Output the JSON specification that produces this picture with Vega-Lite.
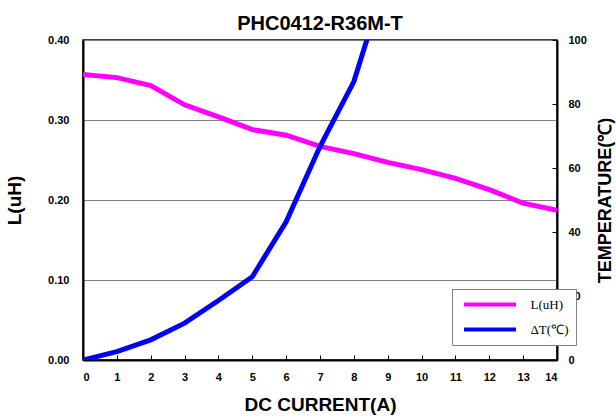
{
  "$schema": "https://vega.github.io/schema/vega-lite/v6.json",
  "width": 474,
  "height": 320,
  "autosize": {"type": "none"},
  "padding": {"left": 83, "top": 40, "right": 59, "bottom": 58},
  "background": "white",
  "title": {
    "text": "PHC0412-R36M-T",
    "font": "Liberation Sans",
    "fontSize": 20,
    "fontWeight": "bold",
    "color": "black",
    "anchor": "middle",
    "offset": 0
  },
  "config": {
    "view": {"stroke": "black", "strokeWidth": 1.5},
    "axis": {
      "labelFont": "Liberation Sans",
      "labelFontWeight": "bold",
      "labelFontSize": 11,
      "labelColor": "black",
      "titleFont": "Liberation Sans",
      "titleFontWeight": "bold",
      "titleFontSize": 19,
      "titleColor": "black",
      "domainColor": "black",
      "domainWidth": 2,
      "tickColor": "black",
      "tickWidth": 1
    }
  },
  "data": {
    "values": [
      {"I": 0, "L": 0.357, "T": 0},
      {"I": 1, "L": 0.353, "T": 2.6},
      {"I": 2, "L": 0.343, "T": 6.3},
      {"I": 3, "L": 0.319, "T": 11.5},
      {"I": 4, "L": 0.304, "T": 18.6},
      {"I": 5, "L": 0.288, "T": 26},
      {"I": 6, "L": 0.281, "T": 43.2},
      {"I": 7, "L": 0.267, "T": 66.7},
      {"I": 8, "L": 0.258, "T": 87},
      {"I": 9, "L": 0.247, "T": 121},
      {"I": 10, "L": 0.238},
      {"I": 11, "L": 0.227},
      {"I": 12, "L": 0.213},
      {"I": 13, "L": 0.196},
      {"I": 14, "L": 0.187}
    ]
  },
  "encoding": {
    "x": {
      "field": "I",
      "type": "quantitative",
      "scale": {"domain": [0, 14], "nice": false},
      "axis": {
        "title": "DC CURRENT(A)",
        "values": [0, 1, 2, 3, 4, 5, 6, 7, 8, 9, 10, 11, 12, 13, 14],
        "grid": false,
        "tickSize": -5,
        "labelPadding": 16,
        "titlePadding": 13
      }
    }
  },
  "layer": [
    {
      "mark": {"type": "line", "strokeWidth": 5, "clip": true},
      "encoding": {
        "y": {
          "field": "L",
          "type": "quantitative",
          "scale": {"domain": [0, 0.4], "nice": false},
          "axis": {
            "title": "L(uH)",
            "orient": "left",
            "values": [0, 0.1, 0.2, 0.3, 0.4],
            "format": ".2f",
            "grid": true,
            "gridColor": "#808080",
            "gridWidth": 1,
            "ticks": false,
            "labelPadding": 14,
            "titlePadding": 23
          }
        },
        "color": {
          "datum": "L(uH)",
          "scale": {"domain": ["L(uH)", "ΔT(℃)"], "range": ["#FF00FF", "#0000FF"]},
          "legend": {
            "title": null,
            "orient": "none",
            "legendX": 369,
            "legendY": 249,
            "fillColor": "white",
            "strokeColor": "#808080",
            "padding": 7,
            "symbolType": "M-4,0H4",
            "symbolSize": 169,
            "symbolStrokeWidth": 4,
            "symbolOffset": 22.5,
            "labelFont": "Liberation Serif",
            "labelFontSize": 13,
            "labelColor": "black",
            "labelOffset": 32,
            "rowPadding": 8,
            "zindex": 2
          }
        }
      }
    },
    {
      "mark": {"type": "line", "strokeWidth": 5, "clip": true},
      "encoding": {
        "y": {
          "field": "T",
          "type": "quantitative",
          "scale": {"domain": [0, 100], "nice": false},
          "axis": {
            "title": "TEMPERATURE(℃)",
            "titleFontSize": 18,
            "titleAngle": 270,
            "titleBaseline": "top",
            "orient": "right",
            "values": [0, 20, 40, 60, 80, 100],
            "grid": false,
            "tickSize": -5,
            "labelPadding": 16,
            "titlePadding": 10
          }
        },
        "color": {"datum": "ΔT(℃)"}
      }
    }
  ],
  "resolve": {"scale": {"y": "independent"}}
}
